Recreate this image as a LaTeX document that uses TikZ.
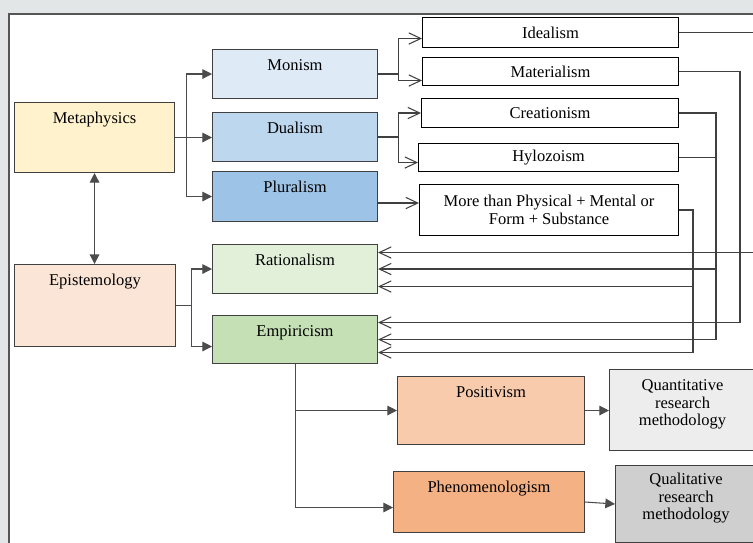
\documentclass[tikz,border=0pt]{standalone}
\usepackage{fontspec}
\setmainfont{Liberation Serif}
\usepackage{tikz}
\usetikzlibrary{arrows.meta}

\definecolor{pagegray}{HTML}{E3E6E7}
\definecolor{framegray}{HTML}{555555}
\definecolor{metacol}{HTML}{FFF2CC}
\definecolor{epistcol}{HTML}{FBE5D6}
\definecolor{monocol}{HTML}{DEEBF7}
\definecolor{duocol}{HTML}{BDD7EE}
\definecolor{pluricol}{HTML}{9DC3E6}
\definecolor{ratiocol}{HTML}{E2F0D9}
\definecolor{empcol}{HTML}{C5E0B4}
\definecolor{posicol}{HTML}{F8CBAD}
\definecolor{phencol}{HTML}{F4B183}
\definecolor{quantcol}{HTML}{EDEDED}
\definecolor{qualcol}{HTML}{CFCFCF}

\begin{document}
\begin{tikzpicture}[
	box/.style = {draw = black!75, line width = 0.6pt, anchor = north west, align = center, font = \fontsize{9.4}{10}\selectfont},
	toptext/.style = {text height = 0.3cm, inner ysep = 0.12cm, text depth = #1},
	flow/.style = {draw = black!70, line width = 0.6pt, -{Triangle[length = 5.5pt, width = 5.5pt]}},
	feed/.style = {draw = black!75, line width = 0.6pt, -{Straight Barb[length = 6.8pt, width = 6.4pt]}},
	wire/.style = {draw = black!75, line width = 0.6pt}
	]
	\path [use as bounding box, clip] (0,0) rectangle (15.06,10.86);
	\fill [pagegray] (0,0) rectangle (15.06,10.86);
	\fill [white] (0.18,-0.1) rectangle (15.2,10.58);
	\draw [framegray, line width = 0.8pt] (0.18,-0.1) -- (0.18,10.58) -- (15.2,10.58);
	
	\node (metaphysics) [box, fill = metacol, minimum width = 3.2cm, toptext = 0.86cm] at (0.28,8.82) {Metaphysics};
	\node (epistemology) [box, fill = epistcol, minimum width = 3.22cm, toptext = 1.1cm] at (0.28,5.58) {Epistemology};
	
	\node (monism) [box, fill = monocol, minimum width = 3.3cm, toptext = 0.44cm] at (4.24,9.88) {Monism};
	\node (dualism) [box, fill = duocol, minimum width = 3.3cm, toptext = 0.44cm] at (4.24,8.62) {Dualism};
	\node (pluralism) [box, fill = pluricol, minimum width = 3.3cm, toptext = 0.46cm] at (4.24,7.44) {Pluralism};
	\node (rationalism) [box, fill = ratiocol, minimum width = 3.3cm, toptext = 0.44cm] at (4.24,5.98) {Rationalism};
	\node (empiricism) [box, fill = empcol, minimum width = 3.3cm, toptext = 0.42cm] at (4.24,4.56) {Empiricism};
	
	\node (idealism) [box, draw = black, minimum width = 5.12cm, minimum height = 0.6cm] at (8.44,10.52) {Idealism};
	\node (materialism) [box, draw = black, minimum width = 5.12cm, minimum height = 0.56cm] at (8.44,9.72) {Materialism};
	\node (creationism) [box, draw = black, minimum width = 5.14cm, minimum height = 0.58cm] at (8.42,8.9) {Creationism};
	\node (hylozoism) [box, draw = black, minimum width = 5.2cm, minimum height = 0.56cm] at (8.36,8.0) {Hylozoism};
	\node (more) [box, draw = black, minimum width = 5.18cm, minimum height = 1.02cm] at (8.38,7.18) {More than Physical + Mental or\\Form + Substance};
	
	\node (positivism) [box, fill = posicol, minimum width = 3.74cm, toptext = 0.82cm] at (7.94,3.34) {Positivism};
	\node (phenomenologism) [box, fill = phencol, minimum width = 3.82cm, toptext = 0.68cm] at (7.86,1.44) {Phenomenologism};
	\node (quantitative) [box, fill = quantcol, minimum width = 2.92cm, minimum height = 1.62cm, text depth = 0.29cm] at (12.18,3.48) {Quantitative\\research\\methodology};
	\node (qualitative) [box, fill = qualcol, minimum width = 2.82cm, minimum height = 1.54cm, text depth = 0.31cm] at (12.3,1.56) {Qualitative\\research\\methodology};
	
	\draw [flow] (metaphysics.east) -- ++(0.22,0) coordinate (metafork) |- (monism.west);
	\draw [flow] (metafork) -- (metafork -| dualism.west);
	\draw [flow] (metafork) |- (pluralism.west);
	\draw [black!70, line width = 0.8pt, {Triangle[length = 5.5pt, width = 5.5pt]}-{Triangle[length = 5.5pt, width = 5.5pt]}] (metaphysics.south) -- (metaphysics.south |- epistemology.north);
	\draw [flow] (epistemology.east) -- ++(0.3,0) coordinate (epifork) |- (rationalism.west);
	\draw [flow] (epifork) |- ([yshift=-0.14cm]empiricism.west);
	
	\draw [feed] (monism.east) -- ++(0.4,0) coordinate (monofork) |- ([yshift=-0.12cm]idealism.west);
	\draw [feed] (monofork) |- ([yshift=-0.18cm]materialism.west);
	\draw [feed] (dualism.east) -- ++(0.4,0) coordinate (duofork) |- (creationism.west);
	\draw [feed] (duofork) |- ([yshift=-0.1cm]hylozoism.west);
	\draw [feed] ([yshift=-0.13cm]pluralism.east) -- ([yshift=-0.13cm]pluralism.east -| more.west);
	
	\coordinate (col1) at (13.86,0);
	\coordinate (col2) at (14.32,0);
	\coordinate (col3) at (14.8,0);
	\coordinate (col4) at (15.3,0);
	\draw [feed] (idealism.east) -| ([yshift=0.33cm]col4 |- rationalism.east) -- ([yshift=0.33cm]rationalism.east);
	\draw [feed] (materialism.east) -| ([yshift=0.34cm]col3 |- empiricism.east) -- ([yshift=0.34cm]empiricism.east);
	\draw [feed] (creationism.east) -| (col2 |- empiricism.east) -- (empiricism.east);
	\draw [feed] (col2 |- rationalism.east) -- (rationalism.east);
	\draw [wire] (hylozoism.east) -- (hylozoism.east -| col2);
	\draw [feed] (more.east) -| ([yshift=-0.26cm]col1 |- empiricism.east) -- ([yshift=-0.26cm]empiricism.east);
	\draw [feed] ([yshift=-0.35cm]col1 |- rationalism.east) -- ([yshift=-0.35cm]rationalism.east);
	
	\draw [flow] (empiricism.south) |- ([yshift=-0.11cm]phenomenologism.west);
	\draw [flow] (empiricism.south |- positivism.west) -- (positivism.west);
	\draw [flow] (positivism.east) -- (positivism.east -| quantitative.west);
	\draw [flow] (phenomenologism.east) -- (qualitative.west);
	
\end{tikzpicture}
\end{document}
